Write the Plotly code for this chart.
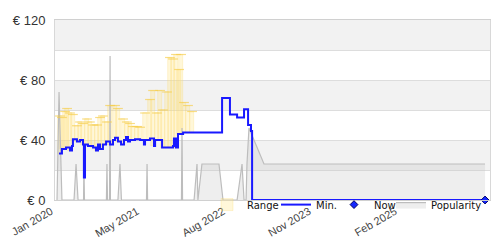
import plotly.graph_objects as go

# ---- data ----
min_dates = ["2020-01-23","2020-02-08","2020-03-01","2020-03-23","2020-04-03","2020-04-08",
             "2020-04-30","2020-05-17","2020-06-02","2020-06-07","2020-06-13","2020-06-29",
             "2020-07-27","2020-08-12","2020-08-23","2020-09-03","2020-09-19","2020-10-06",
             "2020-10-28","2020-11-13","2020-11-24","2020-12-10","2020-12-27","2021-01-12",
             "2021-01-23","2021-02-03","2021-02-14","2021-03-13","2021-04-10","2021-05-01",
             "2021-05-07","2021-06-03","2021-06-25","2021-07-01","2021-08-08","2021-09-20",
             "2021-10-07","2021-10-12","2021-10-23","2021-11-03","2021-12-01","2022-07-02",
             "2022-08-14","2022-09-22","2022-10-30","2022-11-21","2022-12-07","2022-12-13",
             "2026-06-08"]
min_values = [31,34,35,33,36,40.5,
              39,40,37,15,37,36,
              35,33,37,34,37,39,
              37,40,41.5,39,37,40,
              42,39,40,40.5,40,37,
              40,41,36,40,35,35,
              36,41,35,44,45,68,
              57,55,60.5,50,46,0,
              0]

range_dates = ["2020-01-28","2020-02-08","2020-02-25","2020-03-07","2020-03-23","2020-04-08",
               "2020-04-30","2020-05-17","2020-06-02","2020-06-24","2020-07-10","2020-07-27",
               "2020-08-18","2020-09-03","2020-09-19","2020-10-11","2020-10-28","2020-11-24",
               "2020-12-10","2021-01-07","2021-01-28","2021-02-14","2021-03-02","2021-03-24",
               "2021-04-10","2021-05-07","2021-06-03","2021-06-20","2021-07-11","2021-07-28",
               "2021-08-13","2021-09-04","2021-09-20","2021-10-07","2021-10-23","2021-11-09",
               "2021-11-20","2021-12-06","2021-12-28","2022-01-19"]
range_low = [31,34,34,35,33,40,
             39,40,37,37,36,35,
             33,34,37,39,37,41.5,
             39,37,42,40,40,40,
             40,40,41,36,40,40,
             35,35,35,36,35,44,
             45,45,45,45]
range_high = [56,55,59,61,58,57,
              49.5,52,51,54,52,50,
              50,55,56,52,63,63,
              61,54,52,51,49,49,
              48.5,58,67,73,58,73,
              60,72,95,94,97,87,
              97,65,63,59]

pop_dates = ["2020-01-12","2020-01-23","2020-02-08","2020-04-14","2020-04-25","2020-05-06",
             "2020-06-05","2020-06-07","2020-06-10","2020-10-08","2020-10-11","2020-10-14",
             "2020-10-25","2020-10-28","2020-10-30","2020-12-10","2020-12-21","2020-12-29",
             "2021-05-15","2021-05-18","2021-05-21","2021-11-22","2021-11-25","2021-11-28",
             "2022-01-30","2022-02-15","2022-02-20","2022-03-14","2022-06-15","2022-07-07",
             "2022-09-22","2022-10-19","2022-10-30","2022-11-10","2022-11-15","2022-11-26",
             "2023-02-16","2026-06-08"]
pop_values = [0,72,0,0,24,0,
              0,24,0,0,24,0,
              0,96,0,0,24,0,
              0,24,0,0,48,0,
              0,24,0,24,24,0,
              0,24,0,0,24,48,
              24,24]

now_date = ["2026-06-08"]
now_value = [0]

x_tickvals = ["2020-01-01","2021-04-15","2022-07-29","2023-11-11","2025-02-23"]
x_ticktext = ["Jan 2020","May 2021","Aug 2022","Nov 2023","Feb 2025"]
y_tickvals = [0,20,40,60,80,100,120]
y_ticktext = ["€ 0","","€ 40","","€ 80","","€ 120"]

fig = go.Figure()

fig.add_trace(go.Scatter(
    x=pop_dates, y=pop_values, name="Popularity", mode="lines",
    line=dict(color="#bdbdbd", width=1.2), fill="tozeroy",
    fillcolor="rgba(200,200,200,0.3)", legend="legend4", hoverinfo="skip"))

fig.add_trace(go.Bar(
    x=range_dates, base=range_low,
    y=[h - l for h, l in zip(range_high, range_low)],
    width=18 * 86400000, name="Range",
    marker=dict(color="rgba(255,228,130,0.3)",
                line=dict(color="rgba(250,212,90,0.4)", width=0.6)),
    legend="legend"))

fig.add_trace(go.Scatter(
    x=range_dates, y=range_high, mode="markers", showlegend=False,
    marker=dict(symbol="line-ew", size=7, line=dict(color="rgba(246,205,70,0.65)", width=1.2)),
    hoverinfo="skip"))

fig.add_trace(go.Scatter(
    x=min_dates, y=min_values, name="Min.", mode="lines",
    line=dict(color="rgb(25,25,255)", width=2, shape="hv"), legend="legend2"))

fig.add_trace(go.Scatter(
    x=now_date, y=now_value, name="Now", mode="markers", cliponaxis=False,
    marker=dict(symbol="diamond", size=6, color="rgb(20,40,255)",
                line=dict(color="#000066", width=1)), legend="legend3"))

bands = [(100, 120), (60, 80), (20, 40)]
for lo, hi in bands:
    fig.add_shape(type="rect", xref="paper", yref="y", x0=0, x1=1, y0=lo, y1=hi,
                  fillcolor="#f2f2f2", line=dict(width=0), layer="below")

def leg(start_px):
    return dict(orientation="h", x=(start_px - 55) / 435, y=0.055, xanchor="left", yanchor="top",
                bgcolor="rgba(0,0,0,0)", font=dict(family="DejaVu Sans", size=10, color="#111"),
                itemwidth=30)

fig.update_layout(
    width=500, height=250,
    margin=dict(l=55, r=10, t=20, b=50),
    plot_bgcolor="white", paper_bgcolor="white",
    bargap=0, barmode="overlay",
    showlegend=True,
    legend=leg(207), legend2=leg(276), legend3=leg(334), legend4=leg(391),
    font=dict(family="Liberation Sans", color="#333"),
)
fig.update_xaxes(type="date", range=["2020-01-01", "2026-07-05"],
                 tickvals=x_tickvals, ticktext=x_ticktext, tickangle=-30,
                 tickfont=dict(family="Liberation Sans", size=11, color="#444"), showgrid=False,
                 ticklabelshift=-4,
                 showline=True, linecolor="#d0d0d0", mirror=True, zeroline=False)
fig.update_yaxes(range=[0, 120], tickvals=y_tickvals, ticktext=y_ticktext,
                 tickfont=dict(family="Liberation Sans", size=13, color="#333"), gridcolor="#dddddd",
                 showline=True, linecolor="#d8d8d8", mirror=True, zeroline=False,
                 ticklabelstandoff=6)

fig.write_html("out.html")
